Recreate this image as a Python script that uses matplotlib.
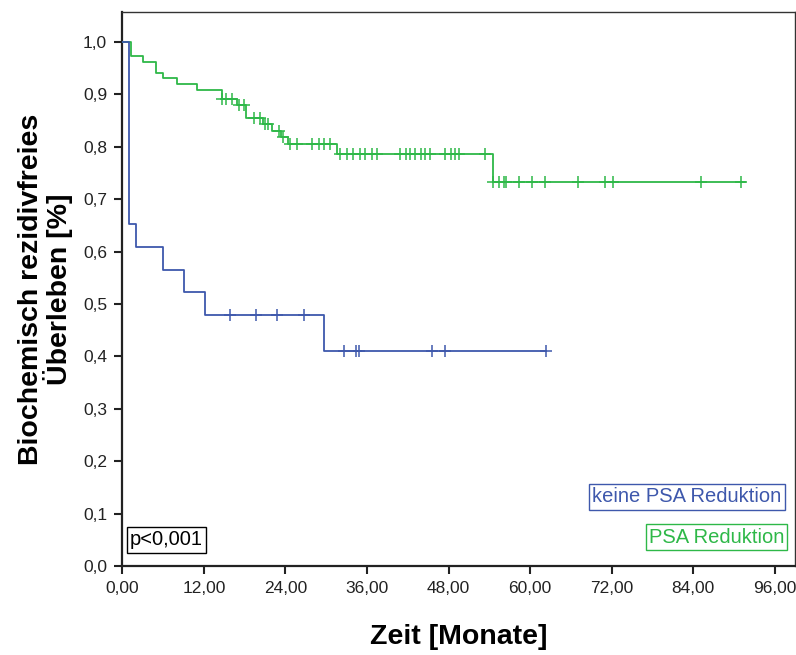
import numpy as np
import matplotlib
matplotlib.use('Agg')
import matplotlib.pyplot as plt

plt.rcParams['font.family'] = ['Liberation Sans', 'DejaVu Sans']

# keine PSA Reduktion (blau)
blue_t = [0, 1.0, 2.0, 6.0, 9.0, 12.1, 29.7]
blue_s = [1.0, 0.652, 0.609, 0.565, 0.522, 0.478, 0.410]
blue_end = 62.4
blue_cens = [15.8, 19.7, 22.8, 26.7, 32.6, 34.4, 34.8, 45.6, 47.5, 62.4]

# PSA Reduktion (gruen)
green_t = [0, 1.3, 3.1, 5.0, 5.9, 8.0, 11.0, 14.6, 16.9, 18.2, 20.7, 22.0,
           23.3, 24.4, 31.6, 54.5]
green_s = [1.0, 0.973, 0.961, 0.941, 0.931, 0.920, 0.908, 0.891, 0.879,
           0.855, 0.843, 0.829, 0.818, 0.806, 0.786, 0.733]
green_end = 91.7
green_cens = [14.7, 15.3, 16.1, 17.2, 17.9, 19.3, 20.3, 21.0, 21.5, 23.0,
              23.7, 24.7, 25.7, 27.9, 28.9, 29.6, 30.6, 32.0, 33.0, 34.0,
              34.9, 35.7, 36.7, 37.5, 40.9, 41.7, 42.4, 43.1, 43.9, 44.6,
              45.3, 47.5, 48.3, 49.0, 49.5, 53.4, 54.5, 55.4, 56.1, 56.4,
              58.3, 60.3, 62.2, 67.1, 71.1, 72.2, 85.1, 91.0]

xticks = [0, 12, 24, 36, 48, 60, 72, 84, 96]
yticks = [0.0, 0.1, 0.2, 0.3, 0.4, 0.5, 0.6, 0.7, 0.8, 0.9, 1.0]

blue = '#3e58ac'
green = '#2eb848'


def kmcurve(ax, t, s, tend, cens, col):
    t = np.array(t)
    s = np.array(s)
    tt = np.append(t, tend)
    ss = np.append(s, s[-1])
    ax.step(tt, ss, where='post', color=col, lw=1.3, zorder=3)
    c = np.array(cens)
    idx = np.searchsorted(t, c, side='right') - 1
    ax.plot(c, s[idx], '+', color=col, ms=9, mew=1.1, zorder=4)


fig = plt.figure(figsize=(7.96, 6.55), dpi=100)
ax = fig.add_axes([0.1538, 0.1359, 0.8450, 0.8458])

kmcurve(ax, green_t, green_s, green_end, green_cens, green)
kmcurve(ax, blue_t, blue_s, blue_end, blue_cens, blue)

ax.set_xlim(0, 99)
ax.set_ylim(0, 1.057)
ax.set_xticks(xticks)
ax.set_xticklabels(['%d,00' % v for v in xticks])
ax.set_yticks(yticks)
ax.set_yticklabels([('%.1f' % v).replace('.', ',') for v in yticks])
ax.tick_params(direction='out', length=6, width=1.5, labelsize=12.5,
               colors='#222222', pad=5)

for sp in ['left', 'bottom']:
    ax.spines[sp].set_linewidth(1.6)
    ax.spines[sp].set_color('#222222')
for sp in ['top', 'right']:
    ax.spines[sp].set_linewidth(1.0)
    ax.spines[sp].set_color('#333333')

ax.set_xlabel('Zeit [Monate]', fontsize=20.5, fontweight='bold', labelpad=20)
ax.set_ylabel('Biochemisch rezidivfreies\nÜberleben [%]', fontsize=20.5,
              fontweight='bold', labelpad=7, linespacing=0.95)

ax.text(97.0, 0.132, 'keine PSA Reduktion', color=blue, fontsize=14.5,
        ha='right', va='center',
        bbox=dict(boxstyle='square,pad=0.16', fc='white', ec=blue, lw=1.0))
ax.text(97.4, 0.055, 'PSA Reduktion', color=green, fontsize=14.5,
        ha='right', va='center',
        bbox=dict(boxstyle='square,pad=0.16', fc='white', ec=green, lw=1.0))
ax.text(1.1, 0.05, 'p<0,001', color='black', fontsize=14.5,
        ha='left', va='center',
        bbox=dict(boxstyle='square,pad=0.16', fc='white', ec='black', lw=1.0))

fig.savefig('out.png', dpi=100)
